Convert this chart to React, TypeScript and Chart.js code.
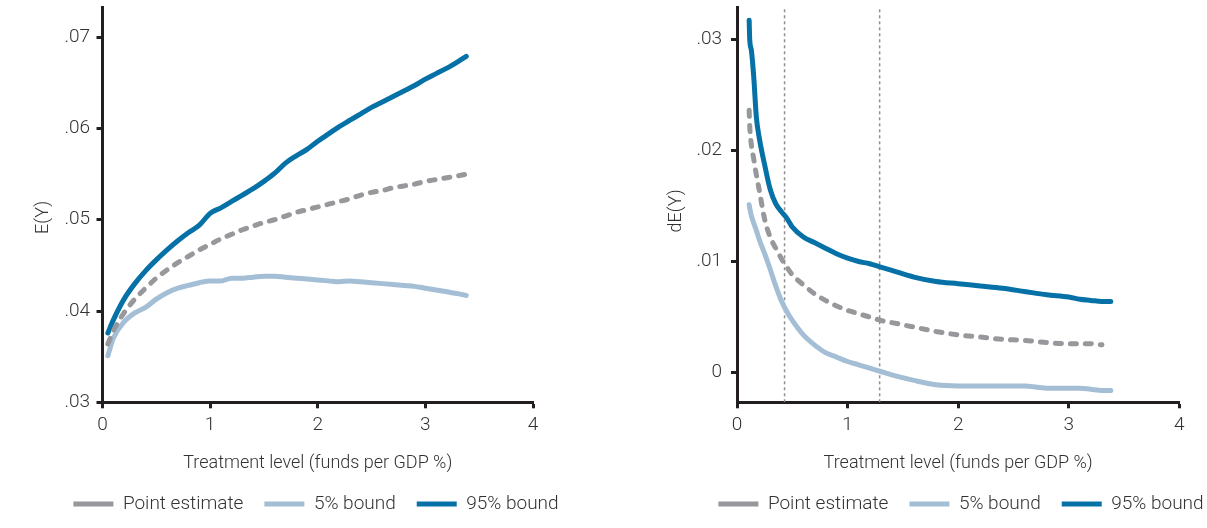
import React, { useEffect, useRef } from 'react';
import { Chart, registerables } from 'chart.js';

Chart.register(...registerables);

// ---------- data ----------
const seriesNames = ['Point estimate', '5% bound', '95% bound'];
const xTitle = 'Treatment level (funds per GDP %)';
const xTicks = [0, 1, 2, 3, 4];

// Left panel: E(Y)
const leftX = [0.05, 0.1, 0.2, 0.3, 0.4, 0.5, 0.6, 0.7, 0.8, 0.9, 1.0, 1.1, 1.2, 1.3, 1.4, 1.5, 1.6, 1.7, 1.8, 1.9, 2.0, 2.1, 2.2, 2.3, 2.4, 2.5, 2.6, 2.7, 2.8, 2.9, 3.0, 3.1, 3.2, 3.3, 3.38];
const leftPoint = [0.0364, 0.0378, 0.0398, 0.0413, 0.0425, 0.0436, 0.0445, 0.0453, 0.046, 0.0467, 0.0473, 0.0479, 0.0484, 0.0489, 0.0493, 0.0497, 0.05, 0.0504, 0.0508, 0.0511, 0.0514, 0.0517, 0.052, 0.0523, 0.0527, 0.053, 0.0532, 0.0535, 0.0537, 0.0539, 0.0542, 0.0544, 0.0546, 0.0548, 0.055];
const leftLow = [0.0351, 0.037, 0.0388, 0.0398, 0.0404, 0.0413, 0.042, 0.0425, 0.0428, 0.0431, 0.0433, 0.0433, 0.0436, 0.0436, 0.0437, 0.0438, 0.0438, 0.0437, 0.0436, 0.0435, 0.0434, 0.0433, 0.0432, 0.0433, 0.0432, 0.0431, 0.043, 0.0429, 0.0428, 0.0427, 0.0425, 0.0423, 0.0421, 0.0419, 0.0417];
const leftHigh = [0.0376, 0.039, 0.0413, 0.043, 0.0444, 0.0456, 0.0467, 0.0477, 0.0486, 0.0494, 0.0507, 0.0513, 0.052, 0.0527, 0.0534, 0.0542, 0.0551, 0.0562, 0.057, 0.0577, 0.0586, 0.0594, 0.0602, 0.0609, 0.0616, 0.0623, 0.0629, 0.0635, 0.0641, 0.0647, 0.0654, 0.066, 0.0666, 0.0673, 0.0679];
const leftYTicks = [0.03, 0.04, 0.05, 0.06, 0.07];
const leftYTitle = 'E(Y)';

// Right panel: dE(Y)
const rightX = [0.11, 0.115, 0.13, 0.15, 0.175, 0.2, 0.25, 0.3, 0.35, 0.4, 0.45, 0.5, 0.6, 0.7, 0.8, 0.9, 1.0, 1.1, 1.2, 1.3, 1.4, 1.6, 1.8, 2.0, 2.2, 2.4, 2.6, 2.8, 3.0, 3.1, 3.2, 3.3, 3.38];
const rightPoint = [0.0236, 0.0222, 0.0205, 0.0193, 0.0178, 0.0165, 0.0138, 0.0122, 0.0112, 0.0103, 0.0095, 0.0088, 0.0079, 0.0071, 0.0065, 0.006, 0.0056, 0.0053, 0.005, 0.0047, 0.0045, 0.0041, 0.0037, 0.0034, 0.0032, 0.003, 0.0029, 0.0027, 0.0026, 0.0026, 0.0026, 0.0025, null];
const rightLow = [0.0151, 0.0148, 0.0141, 0.0135, 0.0128, 0.012, 0.0107, 0.0093, 0.0078, 0.0065, 0.0055, 0.0047, 0.0034, 0.0025, 0.0018, 0.0014, 0.001, 0.0007, 0.0004, 0.0001, -0.0002, -0.0007, -0.0011, -0.0012, -0.0012, -0.0012, -0.0012, -0.0014, -0.0014, -0.0014, -0.0015, -0.0016, -0.0016];
const rightHigh = [0.0317, 0.03, 0.029, 0.0268, 0.023, 0.0212, 0.0187, 0.0165, 0.0152, 0.0145, 0.0139, 0.0131, 0.0122, 0.0117, 0.0112, 0.0107, 0.0103, 0.01, 0.0098, 0.0095, 0.0092, 0.0086, 0.0082, 0.008, 0.0078, 0.0076, 0.0073, 0.007, 0.0068, 0.0066, 0.0065, 0.0064, 0.0064];
const rightYTicks = [0, 0.01, 0.02, 0.03];
const rightMarkers = [0.43, 1.29];
const rightYTitle = 'dE(Y)';

// ---------- styles ----------
const FONT = "Roboto, 'Liberation Sans', Arial, sans-serif";
const TEXT = '#333333';
const AXIS = '#231f20';
const GRAY = '#97989b';
const LIGHT = '#a4bed5';
const DARK = '#0571a6';
const MARK = '#8e8e8e';

type Panel = {
  xs: number[];
  point: (number | null)[];
  low: number[];
  high: number[];
  yMin: number;
  yMax: number;
  yTicks: number[];
  yTitle: string;
  yTitleX: number;
  yTitleY: number;
  yAxisWidth: number;
  yTickPad: number;
  padWidth: number;
  markers: number[];
};

const fmtY = (v: number) => (v === 0 ? '0' : Number(v).toFixed(2).replace(/^(-?)0\./, '$1.'));

const yTitlePlugin = {
  id: 'yTitleText',
  afterDraw(chart: any, _args: any, opts: any) {
    const ctx = chart.ctx;
    ctx.save();
    ctx.translate(opts.x, opts.y);
    ctx.rotate(-Math.PI / 2);
    ctx.font = `300 18px ${FONT}`;
    ctx.fillStyle = TEXT;
    ctx.textAlign = 'center';
    ctx.textBaseline = 'middle';
    ctx.fillText(opts.text, 0, 0);
    ctx.restore();
  },
};

function buildConfig(p: Panel): any {
  const pts = (ys: (number | null)[]) => p.xs.map((x, i) => ({ x, y: ys[i] }));
  const base = { pointRadius: 0, pointHoverRadius: 0, fill: false, cubicInterpolationMode: 'monotone', borderWidth: 5 };
  const datasets: any[] = [
    { ...base, label: seriesNames[0], data: pts(p.point), borderColor: GRAY, backgroundColor: GRAY, borderDash: [6, 9], borderCapStyle: 'round' },
    { ...base, label: seriesNames[1], data: pts(p.low), borderColor: LIGHT, backgroundColor: LIGHT, borderCapStyle: 'round' },
    { ...base, label: seriesNames[2], data: pts(p.high), borderColor: DARK, backgroundColor: DARK, borderCapStyle: 'round' },
  ];
  p.markers.forEach((m) => {
    datasets.push({
      label: 'marker',
      data: [{ x: m, y: p.yMin }, { x: m, y: p.yMax }],
      borderColor: MARK,
      borderWidth: 1.5,
      borderDash: [3, 3],
      pointRadius: 0,
      fill: false,
    });
  });
  const tickFont = { family: FONT, size: 19, weight: '300' };
  const titleFont = { family: FONT, size: 18, weight: '300' };
  const legendFont = { family: FONT, size: 19, weight: '300' };
  return {
    type: 'line',
    data: { datasets },
    plugins: [yTitlePlugin],
    options: {
      responsive: false,
      animation: false,
      events: [],
      layout: { padding: { top: 7, left: 0, right: 0, bottom: 4.5 } },
      plugins: {
        legend: {
          position: 'bottom',
          labels: {
            usePointStyle: true,
            pointStyle: 'line',
            pointStyleWidth: 40,
            padding: 21,
            color: TEXT,
            font: legendFont,
            filter: (item: any) => item.datasetIndex < 3,
          },
        },
        tooltip: { enabled: false },
        yTitleText: { text: p.yTitle, x: p.yTitleX, y: p.yTitleY },
      },
      scales: {
        x: {
          type: 'linear',
          position: 'bottom',
          min: 0,
          max: 4,
          afterBuildTicks: (s: any) => {
            s.ticks = xTicks.map((v) => ({ value: v }));
          },
          ticks: { padding: 6, color: TEXT, font: tickFont, callback: (v: any) => String(v), maxRotation: 0 },
          grid: { display: true, drawOnChartArea: false, drawTicks: true, tickLength: 6, tickWidth: 3, tickColor: AXIS },
          border: { display: true, color: AXIS, width: 3 },
          title: { display: true, text: xTitle, color: TEXT, font: titleFont, padding: { top: 0, bottom: -0.3 } },
          afterFit: (s: any) => {
            s.height = 71.2;
          },
        },
        y: {
          type: 'linear',
          position: 'left',
          min: p.yMin,
          max: p.yMax,
          afterBuildTicks: (s: any) => {
            s.ticks = p.yTicks.map((v) => ({ value: v }));
          },
          ticks: { padding: p.yTickPad, color: TEXT, font: tickFont, callback: (v: any) => fmtY(v) },
          grid: { display: true, drawOnChartArea: false, drawTicks: true, tickLength: 6, tickWidth: 3, tickColor: AXIS },
          border: { display: true, color: AXIS, width: 3 },
          title: { display: false },
          afterFit: (s: any) => {
            s.width = p.yAxisWidth;
            s.paddingTop = 0;
            s.paddingBottom = 0;
          },
        },
        pad: {
          type: 'linear',
          position: 'right',
          display: true,
          grid: { display: false },
          border: { display: false },
          ticks: { display: false },
          afterFit: (s: any) => {
            s.width = p.padWidth;
            s.paddingTop = 0;
            s.paddingBottom = 0;
          },
        },
      },
    },
  };
}

const leftPanel: Panel = {
  xs: leftX,
  point: leftPoint,
  low: leftLow,
  high: leftHigh,
  yMin: 0.03,
  yMax: 0.0733,
  yTicks: leftYTicks,
  yTitle: leftYTitle,
  yTitleX: 43.4,
  yTitleY: 217.5,
  yAxisWidth: 102.5,
  yTickPad: 6.5,
  padWidth: 99,
  markers: [],
};

const rightPanel: Panel = {
  xs: rightX,
  point: rightPoint,
  low: rightLow,
  high: rightHigh,
  yMin: -0.00267,
  yMax: 0.0329,
  yTicks: rightYTicks,
  yTitle: rightYTitle,
  yTitleX: 36,
  yTitleY: 211,
  yAxisWidth: 97,
  yTickPad: 9,
  padWidth: 102.7,
  markers: rightMarkers,
};

function ChartCanvas({ panel, left, width }: { panel: Panel; left: number; width: number }) {
  const ref = useRef<HTMLCanvasElement | null>(null);
  useEffect(() => {
    if (!ref.current) return;
    const chart = new Chart(ref.current, buildConfig(panel));
    return () => chart.destroy();
  }, [panel]);
  return (
    <canvas
      ref={ref}
      width={width}
      height={528}
      style={{ position: 'absolute', left, top: 0, width, height: 528, display: 'block' }}
    />
  );
}

export default function App() {
  return (
    <div style={{ position: 'fixed', left: 0, top: 0, width: 1207, height: 528, overflow: 'hidden', background: '#ffffff' }}>
      <ChartCanvas panel={leftPanel} left={0} width={632} />
      <ChartCanvas panel={rightPanel} left={640} width={642} />
    </div>
  );
}
